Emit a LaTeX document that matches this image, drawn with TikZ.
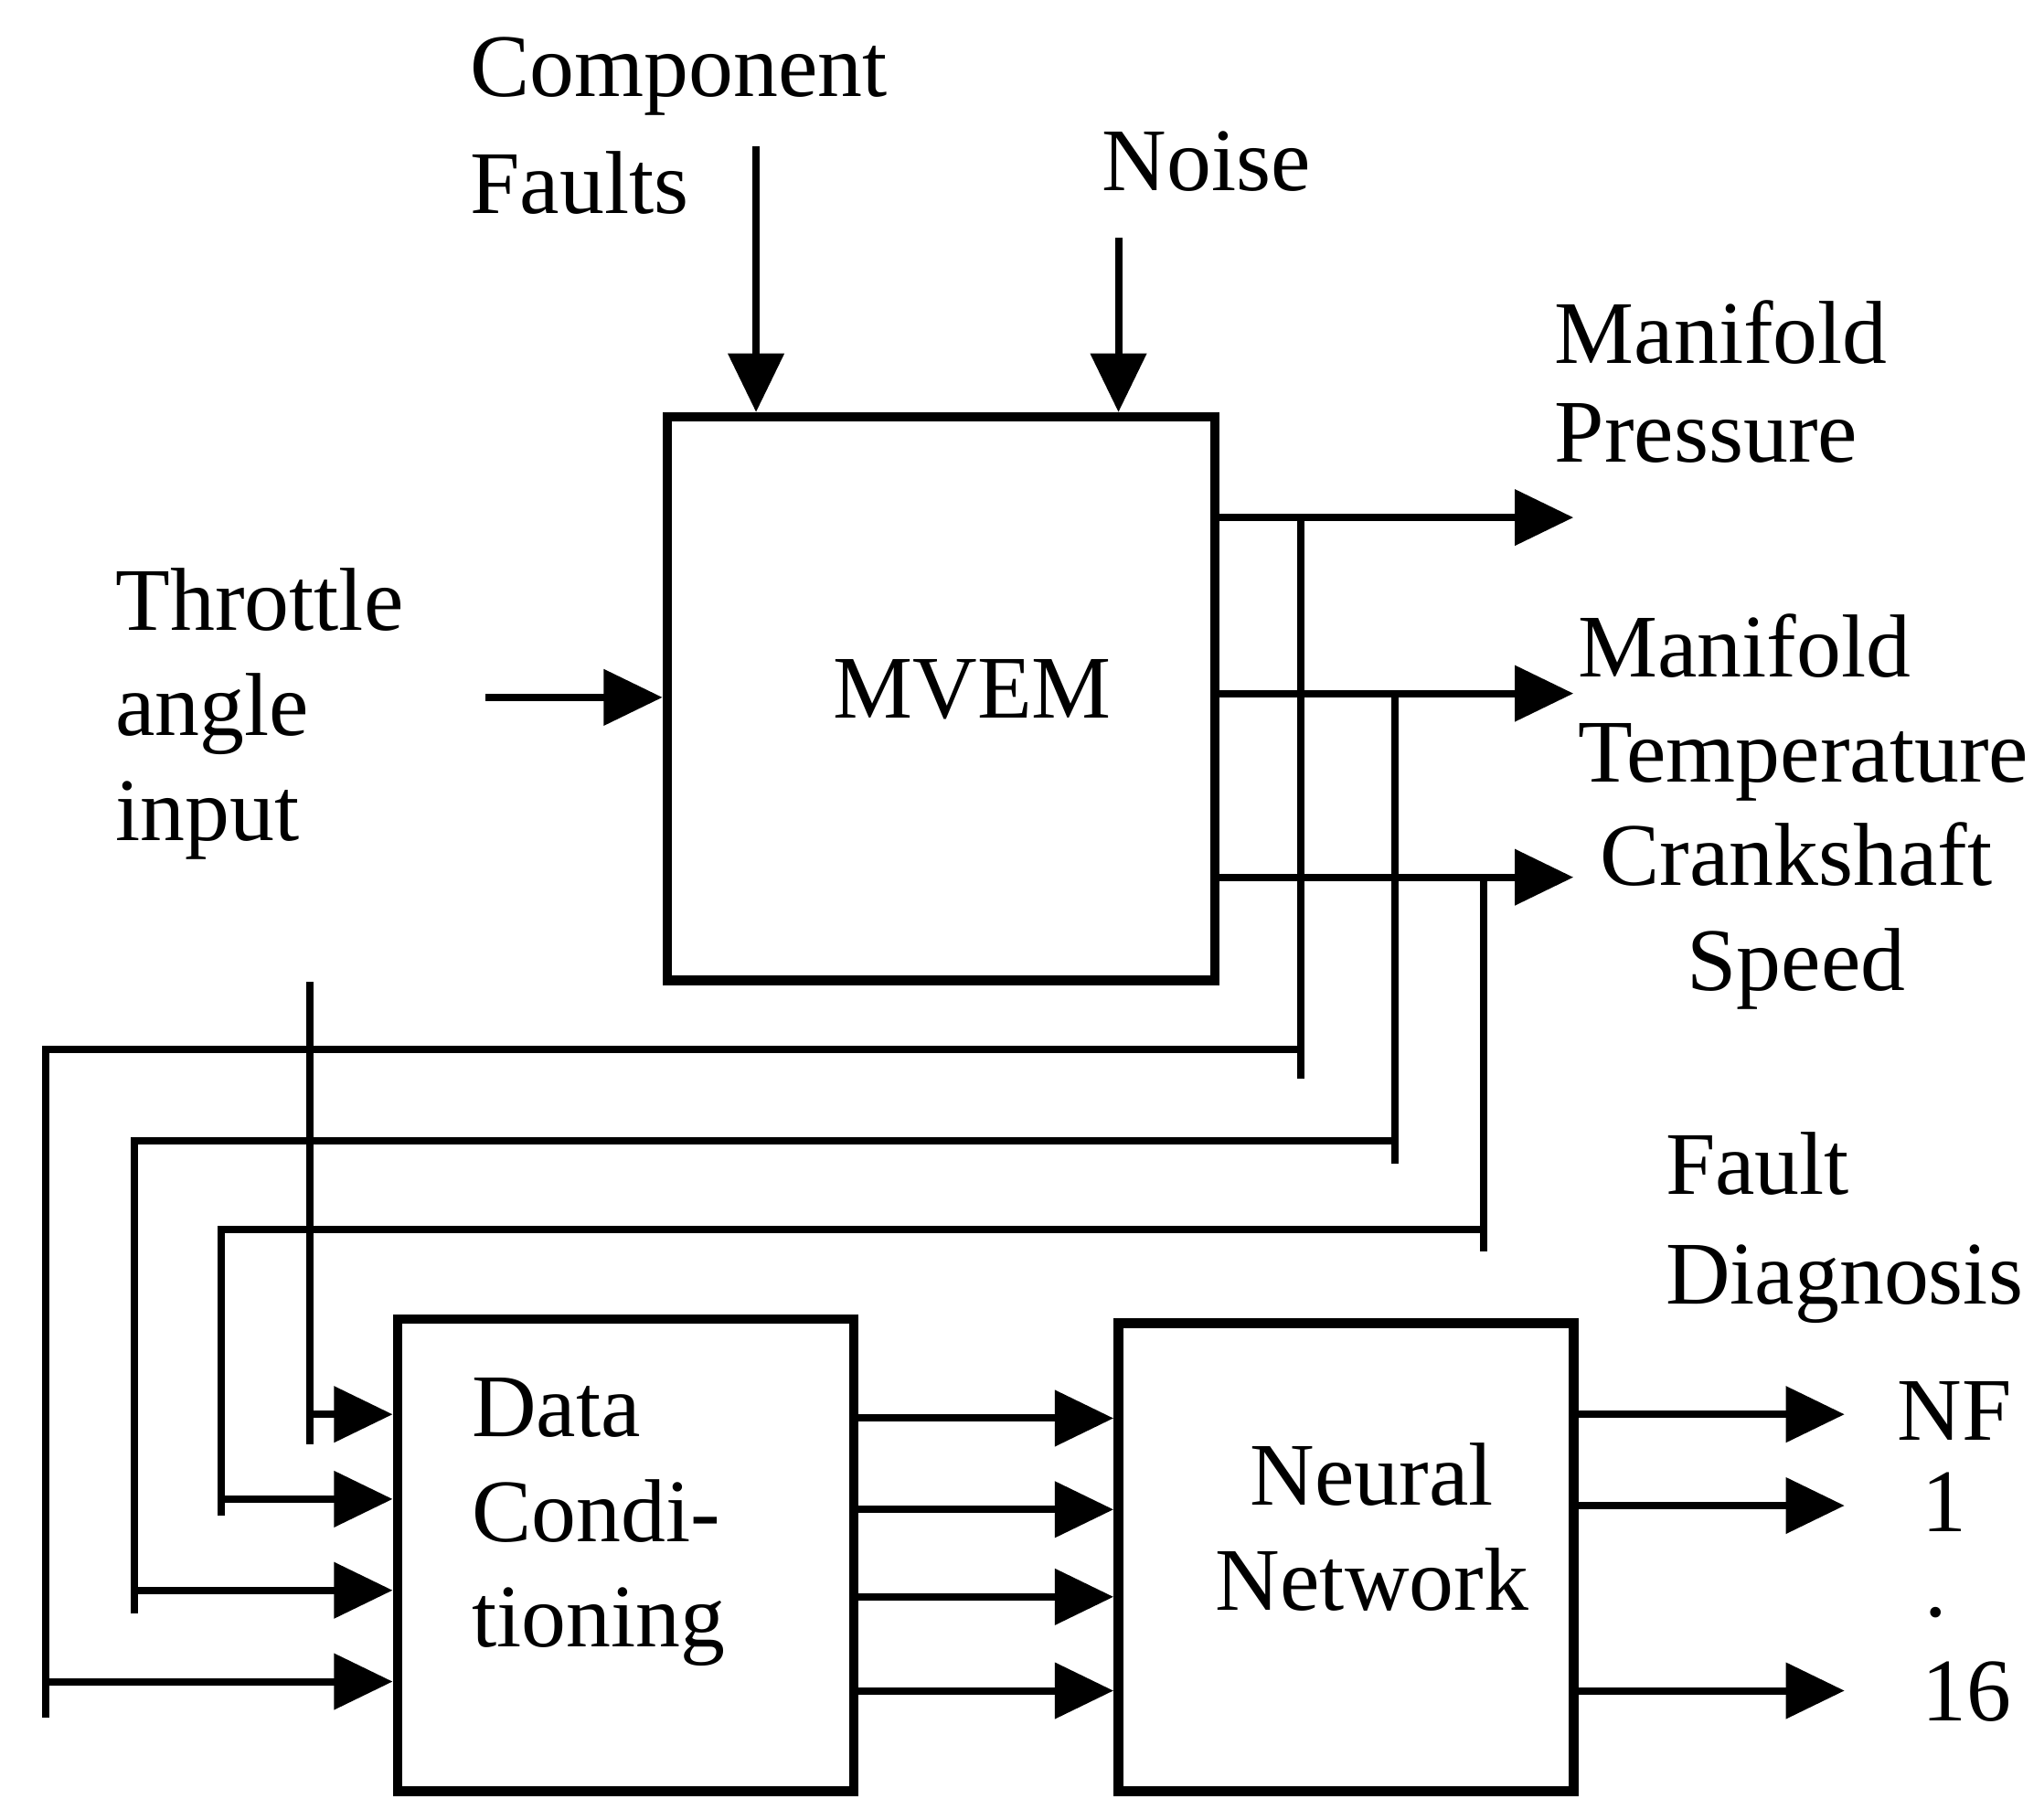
\documentclass[tikz,border=0pt]{standalone}
\usepackage{fontspec}
\setmainfont{Liberation Serif}
\usetikzlibrary{arrows.meta,positioning,calc}

\begin{document}
\begin{tikzpicture}[
  x=0.01cm, y=-0.01cm,
  lbl/.style={inner sep=0pt, font=\fontsize{19.5}{23}\selectfont},
  block/.style={draw, line width=2.1pt, inner sep=0pt},
  wire/.style={line width=1.6pt, line cap=rect},
  arr/.style={wire, -{Triangle[length=4.5mm, width=4.2mm]}}
]
\useasboundingbox (0,0) rectangle (1568,1380);

% blocks
\node[block, minimum width=42mm, minimum height=43.2mm] (mvem) at (722,536) {};
\node[block, minimum width=35mm, minimum height=36.2mm] (dc) at (480,1193) {};
\node[block, minimum width=34.9mm, minimum height=35.9mm] (nn) at (1032.5,1194.5) {};

% texts
\node[lbl] (mvemtext) at ([xshift=2.4mm, yshift=0.7mm]mvem.center) {MVEM};
\node[lbl, anchor=north west, align=left] (dctext) at ([shift={(6mm,-4.8mm)}]dc.north west) {Data\\Condi-\\tioning};
\node[lbl, anchor=north, align=center] (nntext) at ([shift={(2mm,-9.5mm)}]nn.north) {Neural\\Network};
\node[lbl, anchor=north west, align=left, font=\fontsize{19.5}{25.5}\selectfont] (faults) at (360,28) {Component\\Faults};
\node[lbl, anchor=north west] (noise) at (845,100) {Noise};
\node[lbl, anchor=north west, align=left] (throttle) at (88,435) {Throttle\\angle\\input};
\node[lbl, anchor=north west, align=left, font=\fontsize{19.5}{21.5}\selectfont] (press) at (1192,230) {Manifold\\Pressure};
\node[lbl, anchor=north west, align=left] (temp) at (1210,470) {Manifold\\Temperature};
\node[lbl, anchor=north, align=center] (speed) at (1378,630) {Crankshaft\\Speed};
\node[lbl, anchor=north west, align=left, font=\fontsize{19.5}{24}\selectfont] (diag) at (1277,868) {Fault\\Diagnosis};
\node[lbl, anchor=base west] (nf) at (1455,1105) {NF};
\node[lbl, anchor=base west] (one) at (1474,1175) {1};
\node[lbl, anchor=base west] (dots) at (1476,1240) {.};
\node[lbl, anchor=base west] (sixteen) at (1474,1320) {16};

% free ends
\coordinate (cfT) at (580,115);
\coordinate (nzT) at (858,185);
\coordinate (thrS) at (375,535);
\coordinate (mpE) at (1207,397);
\coordinate (mtE) at (1207,532);
\coordinate (csE) at (1207,673);
\coordinate (tapP) at (998,397);
\coordinate (tapT) at (1070,532);
\coordinate (tapC) at (1138,673);
\coordinate (dcin1) at (238,1085);
\coordinate (dcin2) at (170,1150);
\coordinate (dcin3) at (103,1220);
\coordinate (dcin4) at (35,1290);
\coordinate (nfE) at (1415,1085);
\coordinate (oneE) at (1415,1155);
\coordinate (sixE) at (1415,1297);

% MVEM inputs and outputs
\draw[arr] (cfT) -- (cfT |- mvem.north);
\draw[arr] (nzT) -- (nzT |- mvem.north);
\draw[arr] (thrS) -- (thrS -| mvem.west);
\draw[arr] (mvem.east |- mpE) -- (mpE);
\draw[arr] (mvem.east |- mtE) -- (mtE);
\draw[arr] (mvem.east |- csE) -- (csE);

% feedback to data conditioning
\draw[wire] (tapP) -- ++(0,428);
\draw[wire] (tapP |- 0,805) -| ([yshift=-2.5mm]dcin4);
\draw[arr] (dcin4) -- (dcin4 -| dc.west);
\draw[wire] (tapT) -- ++(0,358);
\draw[wire] (tapT |- 0,875) -| ([yshift=-1.5mm]dcin3);
\draw[arr] (dcin3) -- (dcin3 -| dc.west);
\draw[wire] (tapC) -- ++(0,284);
\draw[wire] (tapC |- 0,943) -| ([yshift=-1mm]dcin2);
\draw[arr] (dcin2) -- (dcin2 -| dc.west);
\draw[wire] (dcin1 |- mvem.south) -- ([yshift=-2mm]dcin1);
\draw[arr] (dcin1) -- (dcin1 -| dc.west);

% data conditioning to network
\draw[arr] (dc.east |- 0,1088) -- (nn.west |- 0,1088);
\draw[arr] (dc.east |- 0,1158) -- (nn.west |- 0,1158);
\draw[arr] (dc.east |- 0,1225) -- (nn.west |- 0,1225);
\draw[arr] (dc.east |- 0,1297) -- (nn.west |- 0,1297);

% network outputs
\draw[arr] (nn.east |- nfE) -- (nfE);
\draw[arr] (nn.east |- oneE) -- (oneE);
\draw[arr] (nn.east |- sixE) -- (sixE);
\end{tikzpicture}
\end{document}
